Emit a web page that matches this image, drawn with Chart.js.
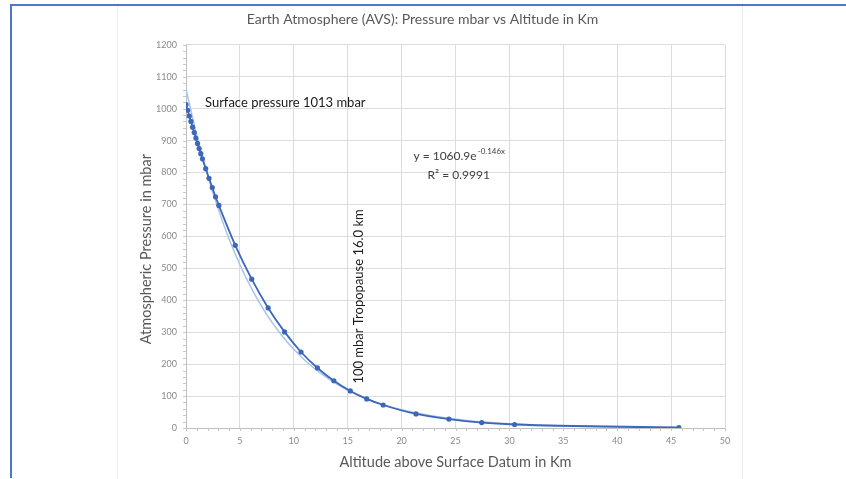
<!DOCTYPE html>
<html>
<head>
<meta charset="utf-8">
<script src="https://cdn.jsdelivr.net/npm/chart.js@4/dist/chart.umd.min.js"></script>
<style>
  html,body{margin:0;padding:0;background:#fff;}
  #wrap{position:relative;width:846px;height:479px;overflow:hidden;}
  #frame{position:absolute;left:10px;top:4px;right:-4px;bottom:1px;border-top:2px solid #4a78cf;border-left:2px solid #4a78cf;}
  #panel{position:absolute;left:117px;top:6px;width:624px;bottom:0;border-left:1px solid #efefef;border-right:1px solid #e8e8e8;}
  canvas{position:absolute;left:0;top:0;}
</style>
</head>
<body>
<div id="wrap">
  <div id="frame"></div>
  <div id="panel"></div>
  <canvas id="c" width="846" height="479"></canvas>
</div>
<script>
// Altitude (km) and pressure (mbar)
const altitudeKm = [0, 0.152, 0.305, 0.457, 0.610, 0.762, 0.914, 1.067, 1.219, 1.372, 1.524,
  1.829, 2.134, 2.438, 2.743, 3.048, 4.572, 6.096, 7.620, 9.144, 10.668, 12.192, 13.716,
  15.240, 16.764, 18.288, 21.336, 24.384, 27.432, 30.480, 45.720];
const pressureMbar = [1013, 995, 977, 960, 942, 925, 908, 891, 875, 859, 843,
  812, 782, 753, 724, 697, 572, 466, 376, 301, 238, 188, 148,
  116, 91, 72, 44, 28, 17, 11, 1.4];

// Exponential trendline as displayed on the chart: y = 1060.9 e^(-0.146x)
const trendA = 1060.9;
const trendK = 0.146;
const trendX = [0, 1, 2, 3, 4, 5, 6, 7, 8, 9, 10, 11, 12, 13, 14, 15, 16, 17, 18, 19, 20, 22, 24, 26, 28, 30, 33, 36, 39, 42, 45.72];

const xTicks = [0, 5, 10, 15, 20, 25, 30, 35, 40, 45, 50];
const yTicks = [0, 100, 200, 300, 400, 500, 600, 700, 800, 900, 1000, 1100, 1200];

const chartTitle = 'Earth Atmosphere (AVS): Pressure mbar vs Altitude in Km';
const xTitle = 'Altitude above Surface Datum in Km';
const yTitle = 'Atmospheric Pressure in mbar';
const noteSurface = 'Surface pressure 1013 mbar';
const noteTropo = '100 mbar Tropopause 16.0 km';
const eqMain = 'y = 1060.9e';
const eqExp = '-0.146x';
const eqR2 = 'R² = 0.9991';

const dataPts = altitudeKm.map((x, i) => ({x: x, y: pressureMbar[i]}));
const trendPts = trendX.map(x => ({x: x, y: trendA * Math.exp(-trendK * x)}));

const FONT = 'Lato, "Open Sans", sans-serif';
const blue = '#3d67b8';

const extras = {
  id: 'extras',
  afterDatasetsDraw(chart) {
    const ctx = chart.ctx;
    const xs = chart.scales.x, ys = chart.scales.y;
    ctx.save();
    // minor ticks
    ctx.strokeStyle = '#c8c8c8';
    ctx.lineWidth = 1;
    const a = chart.chartArea;
    for (let v = 0; v <= 50; v += 1) {
      const px = Math.round(xs.getPixelForValue(v)) + 0.5;
      ctx.beginPath(); ctx.moveTo(px, a.bottom); ctx.lineTo(px, a.bottom + 3); ctx.stroke();
    }
    for (let v = 0; v <= 1200; v += 20) {
      const py = Math.round(ys.getPixelForValue(v)) + 0.5;
      ctx.beginPath(); ctx.moveTo(a.left - 3, py); ctx.lineTo(a.left, py); ctx.stroke();
    }
    // y axis title
    ctx.save();
    ctx.fillStyle = '#595959';
    ctx.font = '14.5px ' + FONT;
    ctx.textAlign = 'center';
    ctx.textBaseline = 'middle';
    ctx.translate(a.left - 40, ys.getPixelForValue(560));
    ctx.rotate(-Math.PI / 2);
    ctx.fillText(yTitle, 0, 0);
    ctx.restore();

    // annotations
    ctx.fillStyle = '#1a1a1a';
    ctx.font = '13px ' + FONT;
    ctx.textBaseline = 'middle';
    ctx.textAlign = 'left';
    ctx.fillText(noteSurface, xs.getPixelForValue(1.76), ys.getPixelForValue(1018));

    // equation
    ctx.fillStyle = '#404040';
    ctx.font = '12px ' + FONT;
    const wMain = ctx.measureText(eqMain).width;
    ctx.font = '8px ' + FONT;
    const wExp = ctx.measureText(eqExp).width;
    const cx = xs.getPixelForValue(25.3);
    const ey = ys.getPixelForValue(850);
    let sx = cx - (wMain + wExp) / 2;
    ctx.font = '12px ' + FONT;
    ctx.fillText(eqMain, sx, ey);
    ctx.font = '8px ' + FONT;
    ctx.fillText(eqExp, sx + wMain + 1, ey - 5);
    ctx.font = '12px ' + FONT;
    ctx.textAlign = 'center';
    ctx.fillText(eqR2, cx, ys.getPixelForValue(793));

    // vertical note
    ctx.fillStyle = '#1a1a1a';
    ctx.font = '13px ' + FONT;
    ctx.translate(xs.getPixelForValue(16.05), ys.getPixelForValue(412));
    ctx.rotate(-Math.PI / 2);
    ctx.textAlign = 'center';
    ctx.fillText(noteTropo, 0, 0);
    ctx.restore();
  }
};

new Chart(document.getElementById('c'), {
  type: 'scatter',
  data: {
    datasets: [
      {
        label: 'Trend',
        data: trendPts,
        showLine: true,
        borderColor: '#a8c3ea',
        borderWidth: 1.5,
        pointRadius: 0,
        tension: 0.4,
        cubicInterpolationMode: 'monotone',
        order: 2
      },
      {
        label: 'Pressure',
        data: dataPts,
        showLine: true,
        borderColor: blue,
        backgroundColor: blue,
        borderWidth: 1.8,
        pointRadius: 2.6,
        pointBorderWidth: 0,
        pointBackgroundColor: blue,
        tension: 0.3,
        cubicInterpolationMode: 'monotone',
        order: 1
      }
    ]
  },
  plugins: [extras],
  options: {
    responsive: false,
    animation: false,
    devicePixelRatio: 1,
    layout: {padding: {left: 120, right: 121, top: 0, bottom: 8}},
    plugins: {
      legend: {display: false},
      tooltip: {enabled: false},
      title: {
        display: true,
        text: chartTitle,
        color: '#595959',
        font: {family: FONT, size: 14, weight: 'normal'},
        padding: {top: 11, bottom: 17}
      }
    },
    scales: {
      x: {
        type: 'linear',
        min: 0, max: 50,
        afterFit(s) { s.height = 43; },
        afterBuildTicks(s) { s.ticks = xTicks.map(v => ({value: v})); },
        grid: {color: '#dcdcdc', lineWidth: 1, drawTicks: false},
        border: {color: '#bfbfbf'},
        ticks: {color: '#8a8a8a', font: {family: FONT, size: 9}, padding: 8, maxRotation: 0, callback: v => String(v)},
        title: {display: true, text: xTitle, color: '#595959', font: {family: FONT, size: 14.5}, padding: {top: 2, bottom: 0}}
      },
      y: {
        type: 'linear',
        min: 0, max: 1200,
        afterFit(s) { s.width = 66; },
        afterBuildTicks(s) { s.ticks = yTicks.map(v => ({value: v})); },
        grid: {color: '#dcdcdc', lineWidth: 1, drawTicks: false},
        border: {color: '#bfbfbf'},
        ticks: {color: '#8a8a8a', font: {family: FONT, size: 9}, padding: 9, callback: v => String(v)},
        title: {display: false}
      }
    }
  }
});
</script>
</body>
</html>
